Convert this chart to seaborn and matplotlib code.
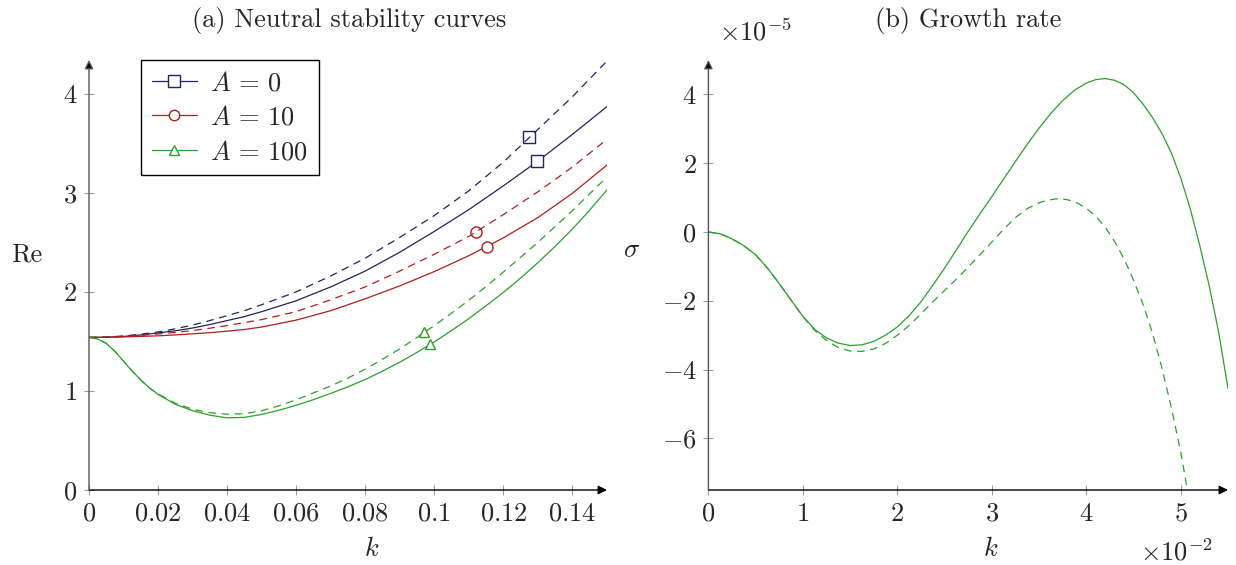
import matplotlib
matplotlib.use("Agg")
import matplotlib.pyplot as plt
import seaborn as sns
import numpy as np
import pandas as pd
from matplotlib.lines import Line2D

# ---------------- data: (a) neutral stability curves ----------------
k_a = [0, 0.005, 0.01, 0.015, 0.02, 0.025, 0.03, 0.035, 0.04, 0.045, 0.05,
       0.06, 0.07, 0.08, 0.09, 0.10, 0.11, 0.12, 0.13, 0.14, 0.15]
re_A0_solid = [1.54, 1.542, 1.55, 1.565, 1.585, 1.607, 1.635, 1.67, 1.71, 1.75, 1.80,
               1.91, 2.05, 2.21, 2.40, 2.61, 2.83, 3.07, 3.32, 3.59, 3.87]
re_A0_dashed = [1.54, 1.543, 1.555, 1.572, 1.595, 1.627, 1.665, 1.71, 1.76, 1.81, 1.87,
                2.00, 2.16, 2.34, 2.55, 2.77, 3.02, 3.31, 3.64, 3.97, 4.33]
re_A10_solid = [1.54, 1.541, 1.545, 1.55, 1.556, 1.565, 1.576, 1.588, 1.603, 1.62, 1.645,
                1.715, 1.81, 1.93, 2.06, 2.205, 2.365, 2.545, 2.75, 2.995, 3.28]
re_A10_dashed = [1.54, 1.542, 1.55, 1.56, 1.575, 1.59, 1.61, 1.633, 1.66, 1.69, 1.72,
                 1.80, 1.92, 2.05, 2.21, 2.38, 2.56, 2.78, 3.01, 3.26, 3.54]

k_a_fine = [0, 0.0025, 0.005, 0.0075, 0.01, 0.0125, 0.015, 0.0175, 0.02, 0.025, 0.03,
            0.035, 0.04, 0.045, 0.05, 0.055, 0.06, 0.065, 0.07, 0.075, 0.08, 0.085,
            0.09, 0.095, 0.10, 0.105, 0.11, 0.115, 0.12, 0.125, 0.13, 0.135, 0.14,
            0.145, 0.15]
re_A100_solid = [1.54, 1.525, 1.48, 1.40, 1.30, 1.20, 1.11, 1.03, 0.965, 0.865, 0.80,
                 0.755, 0.728, 0.733, 0.763, 0.805, 0.855, 0.912, 0.975, 1.042, 1.115,
                 1.20, 1.29, 1.39, 1.495, 1.61, 1.73, 1.86, 1.995, 2.14, 2.295, 2.46,
                 2.635, 2.825, 3.03]
re_A100_dashed = [1.54, 1.525, 1.48, 1.40, 1.30, 1.20, 1.11, 1.03, 0.97, 0.875, 0.815,
                  0.78, 0.765, 0.77, 0.80, 0.85, 0.91, 0.98, 1.05, 1.13, 1.22, 1.32,
                  1.425, 1.54, 1.66, 1.785, 1.915, 2.055, 2.20, 2.35, 2.50, 2.66, 2.82,
                  2.99, 3.16]

# single marks on each curve
mark_k_solid = [0.1296, 0.1153, 0.0987]
mark_re_solid = [3.32, 2.45, 1.475]
mark_k_dashed = [0.1273, 0.1121, 0.0971]
mark_re_dashed = [3.56, 2.60, 1.59]

labels_a = [r"$A\,=\,0$", r"$A\,=\,10$", r"$A\,=\,100$"]
markers_a = ["s", "o", "^"]
marker_sizes = [8.5, 8.0, 7.0]

# ---------------- data: (b) growth rate (k x1e-2, sigma x1e-5) ----------------
k_b_solid = [0, 0.125, 0.25, 0.375, 0.5, 0.625, 0.75, 0.875, 1.0, 1.125, 1.25, 1.375,
             1.5, 1.625, 1.75, 1.875, 2.0, 2.125, 2.25, 2.375, 2.5, 2.625, 2.75, 2.875,
             3.0, 3.125, 3.25, 3.375, 3.5, 3.625, 3.75, 3.875, 4.0, 4.1, 4.2, 4.3, 4.4,
             4.5, 4.6, 4.7, 4.8, 4.9, 5.0, 5.1, 5.2, 5.3, 5.4, 5.5]
sig_b_solid = [0, -0.05, -0.20, -0.40, -0.66, -1.05, -1.50, -1.98, -2.45, -2.83, -3.08,
               -3.23, -3.30, -3.28, -3.18, -3.00, -2.76, -2.43, -2.03, -1.55, -1.05,
               -0.52, 0.02, 0.53, 1.03, 1.54, 2.05, 2.55, 3.02, 3.45, 3.82, 4.12, 4.33,
               4.43, 4.46, 4.41, 4.28, 4.05, 3.72, 3.33, 2.87, 2.30, 1.57, 0.68, -0.38,
               -1.55, -2.90, -4.55]
k_b_dashed = [0, 0.125, 0.25, 0.375, 0.5, 0.625, 0.75, 0.875, 1.0, 1.125, 1.25, 1.375,
              1.5, 1.625, 1.75, 1.875, 2.0, 2.125, 2.25, 2.375, 2.5, 2.625, 2.75, 2.875,
              3.0, 3.125, 3.25, 3.375, 3.5, 3.6, 3.7, 3.8, 3.9, 4.0, 4.1, 4.2, 4.3, 4.4,
              4.5, 4.6, 4.7, 4.8, 4.9, 5.0, 5.07]
sig_b_dashed = [0, -0.05, -0.20, -0.40, -0.66, -1.05, -1.50, -1.98, -2.46, -2.86, -3.15,
                -3.36, -3.46, -3.47, -3.40, -3.24, -3.00, -2.72, -2.38, -2.03, -1.70,
                -1.37, -1.02, -0.66, -0.29, 0.08, 0.42, 0.68, 0.85, 0.93, 0.97, 0.94,
                0.85, 0.69, 0.46, 0.14, -0.28, -0.78, -1.40, -2.10, -2.93, -3.95, -5.10,
                -6.40, -7.50]

# ---------------- style ----------------
sns.set_theme(style="white")
plt.rcParams["font.family"] = ["cmr10", "DejaVu Serif"]
plt.rcParams["mathtext.fontset"] = "cm"
plt.rcParams["axes.unicode_minus"] = False
plt.rcParams["font.size"] = 19
plt.rcParams["lines.scale_dashes"] = False
plt.rcParams["axes.formatter.use_mathtext"] = True

c_blue = "#23235f"
c_red = "#b01e1e"
c_green = "#2ca02c"
colors_a = [c_blue, c_red, c_green]
LW = 0.9
DASH = (0, (5.5, 4))

W, H = 1236, 565
fig = plt.figure(figsize=(W / 100, H / 100), dpi=100)
ax1 = fig.add_axes([89 / W, 75 / H, 518 / W, 430 / H])
ax2 = fig.add_axes([708.4 / W, 75 / H, 519.6 / W, 430 / H])

# ---------------- panel (a) ----------------
series_a = [
    (k_a, re_A0_solid, re_A0_dashed),
    (k_a, re_A10_solid, re_A10_dashed),
    (k_a_fine, re_A100_solid, re_A100_dashed),
]
for i, (kk, sol, das) in enumerate(series_a):
    sns.lineplot(x=kk, y=sol, ax=ax1, color=colors_a[i], lw=LW, sort=False)
    sns.lineplot(x=kk, y=das, ax=ax1, color=colors_a[i], lw=LW, sort=False,
                 linestyle=DASH)
    ax1.plot([mark_k_solid[i]], [mark_re_solid[i]], linestyle="none",
             marker=markers_a[i], ms=marker_sizes[i], mfc="white", mec=colors_a[i],
             mew=1.0, zorder=5)
    ax1.plot([mark_k_dashed[i]], [mark_re_dashed[i]], linestyle="none",
             marker=markers_a[i], ms=marker_sizes[i], mfc="none", mec=colors_a[i],
             mew=1.0, zorder=5)

ax1.set_xlim(0, 0.15)
ax1.set_ylim(0, 4.34)
xt = [0, 0.02, 0.04, 0.06, 0.08, 0.10, 0.12, 0.14]
xtl = ["0", "0.02", "0.04", "0.06", "0.08", "0.1", "0.12", "0.14"]
ax1.set_xticks(xt)
ax1.set_xticklabels([f"${s}$" for s in xtl])
ax1.set_yticks([0, 1, 2, 3, 4])
ax1.set_yticklabels([f"${v}$" for v in [0, 1, 2, 3, 4]])
ax1.set_xlabel("")
ax1.set_ylabel("")

handles = [Line2D([0], [0], color=colors_a[i], lw=LW, marker=markers_a[i],
                  ms=marker_sizes[i] - 0.5, mfc="white", mec=colors_a[i], mew=1.0)
           for i in range(3)]
leg = ax1.legend(handles, labels_a, loc="upper left", bbox_to_anchor=(0.1, 1.0),
                 borderaxespad=0.0, frameon=True, fancybox=False, edgecolor="black",
                 framealpha=1, handlelength=1.7, handletextpad=0.5, labelspacing=0.4,
                 borderpad=0.42, fontsize=19)
leg.get_frame().set_linewidth(1.0)

# ---------------- panel (b) ----------------
sns.lineplot(x=k_b_solid, y=sig_b_solid, ax=ax2, color=c_green, lw=LW, sort=False)
sns.lineplot(x=k_b_dashed, y=sig_b_dashed, ax=ax2, color=c_green, lw=LW, sort=False,
             linestyle=DASH)
ax2.set_xlim(0, 5.5)
ax2.set_ylim(-7.5, 5.0)
ax2.set_xticks([0, 1, 2, 3, 4, 5])
ax2.set_xticklabels([f"${v}$" for v in [0, 1, 2, 3, 4, 5]])
ax2.set_yticks([-6, -4, -2, 0, 2, 4])
ax2.set_yticklabels([f"${v}$" for v in [-6, -4, -2, 0, 2, 4]])
ax2.set_xlabel("")
ax2.set_ylabel("")

# ---------------- axes decoration (pgfplots-like arrows) ----------------
for ax in (ax1, ax2):
    for s in ax.spines.values():
        s.set_visible(False)
    ax.tick_params(axis="both", which="major", direction="inout", length=7,
                   width=0.8, color="#9a9a9a", labelsize=19, pad=5,
                   bottom=True, left=True, top=False, right=False)
    ax.annotate("", xy=(1.0, 0), xytext=(0, 0), xycoords="axes fraction",
                textcoords="axes fraction",
                arrowprops=dict(arrowstyle="-|>", color="black", lw=1.0,
                                mutation_scale=13, shrinkA=0, shrinkB=0,
                                fc="black"), zorder=6)
    ax.annotate("", xy=(0, 1.0), xytext=(0, 0), xycoords="axes fraction",
                textcoords="axes fraction",
                arrowprops=dict(arrowstyle="-|>", color="#555555", lw=1.0,
                                mutation_scale=13, shrinkA=0, shrinkB=0,
                                fc="black"), zorder=6)

# ---------------- texts ----------------
fig.text(349 / W, 1 - 20 / H, "(a) Neutral stability curves", ha="center", va="center",
         fontsize=19)
fig.text(968 / W, 1 - 20 / H, "(b) Growth rate", ha="center", va="center", fontsize=19)
fig.text(27 / W, 1 - 255 / H, "Re", ha="center", va="center", fontsize=19)
fig.text(632 / W, 1 - 250 / H, r"$\sigma$", ha="center", va="center", fontsize=19)
fig.text(372 / W, 1 - 549 / H, r"$k$", ha="center", va="center", fontsize=19)
fig.text(991 / W, 1 - 549 / H, r"$k$", ha="center", va="center", fontsize=19)
fig.text(755 / W, 1 - 32 / H, r"$\times10^{-5}$", ha="center", va="center", fontsize=19)
fig.text(1176 / W, 1 - 552 / H, r"$\times10^{-2}$", ha="center", va="center", fontsize=19)

fig.savefig("out.png", dpi=100)
